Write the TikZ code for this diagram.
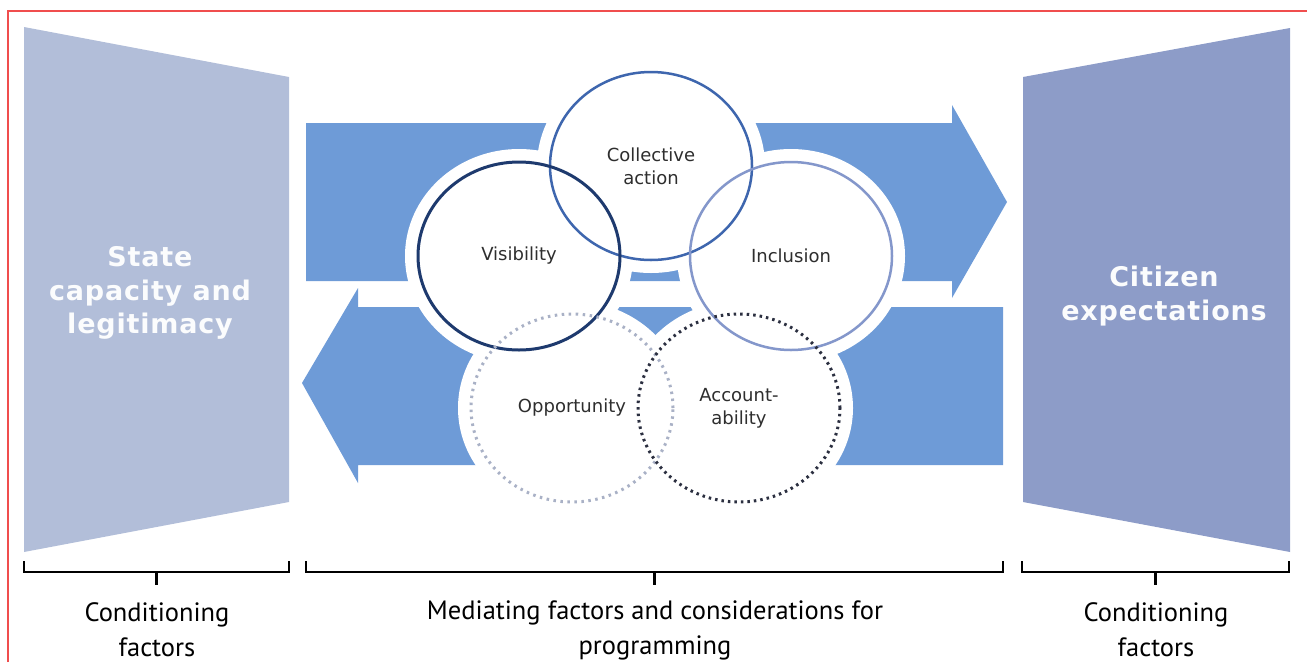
\documentclass[tikz,border=0pt]{standalone}
\usepackage{fontspec}
\setmainfont{DejaVu Sans}
\newfontfamily\captionfont{PT Sans}
\newfontfamily\panelfont[LetterSpace=3]{DejaVu Sans}
\usepackage{xcolor}
\definecolor{statefill}{HTML}{B2BED9}
\definecolor{citizenfill}{HTML}{8D9CC8}
\definecolor{arrowblue}{HTML}{6E9BD7}
\definecolor{collblue}{HTML}{3E66AE}
\definecolor{visnavy}{HTML}{1E3A6E}
\definecolor{inclblue}{HTML}{8497CB}
\definecolor{oppgrey}{HTML}{A9B1C6}
\definecolor{accdark}{HTML}{2B2F40}
\definecolor{labelgrey}{HTML}{2E2E2E}
\definecolor{framered}{HTML}{F04E4E}
\usepackage{tikz}
\usetikzlibrary{shapes.geometric}

\begin{document}
\begin{tikzpicture}[x=1pt,y=-1pt,line width=2pt]
    \tikzstyle{ring}=[ellipse,minimum width=202pt,minimum height=188pt,inner sep=0pt,align=center,text=labelgrey,font=\fontsize{18}{23}\selectfont]
    \tikzstyle{halo}=[ellipse,minimum width=202pt,minimum height=188pt,fill=white,draw=white,line width=26pt]
    \tikzstyle{panel}=[text=white!95!statefill,align=center,font=\panelfont\bfseries\fontsize{27}{33.5}\selectfont]
    \tikzstyle{caption}=[align=center,font=\captionfont\fontsize{26.5}{35}\selectfont]
    \tikzstyle{brace}=[line width=2.5pt]

    \useasboundingbox (0,0) rectangle (1307,662);
    \draw[framered,line width=1.2pt] (8,662) -- (8,11) -- (1307,11);

    % side panels
    \fill[statefill] (24,27) -- (289,77) -- (289,502) -- (24,552) -- cycle;
    \fill[citizenfill] (1023,77) -- (1290,28) -- (1290,552) -- (1023,502) -- cycle;
    \node[panel] (state) at (150,293) {State\\capacity and\\legitimacy};
    \node[panel] (citizen) at (1164,296) {Citizen\\expectations};

    % the two big arrows
    \fill[arrowblue] (306,123) -- (952,123) -- (952,105) -- (1007,202) -- (952,298) -- (952,281) -- (306,281) -- cycle;
    \fill[arrowblue] (1003,307) -- (358,307) -- (358,288) -- (302,383) -- (358,483) -- (358,465) -- (1003,465) -- cycle;

    % white gap round the circles
    \foreach \x/\y in {651/166,519/256,791/256,572/408,739/408}
        \node[halo] at (\x,\y) {};

    \node[ring,draw=collblue,line width=2.5pt] (collective) at (651,166) {Collective\\action};
    \node[ring,draw=visnavy,line width=3pt] (visibility) at (519,256) {Visibility};
    \node[ring,draw=inclblue,line width=2.5pt] (inclusion) at (791,256) {Inclusion};
    \node[ring,draw=oppgrey,line width=3pt,dash pattern=on 2.5pt off 4.5pt] (opportunity) at (572,408) {Opportunity};
    \node[ring,draw=accdark,line width=3pt,dash pattern=on 2.5pt off 4pt] (accountability) at (739,408) {Account-\\ability};

    % brackets and captions
    \foreach \a/\b in {24/289,306/1003,1022/1289}
        \draw[brace] (\a,561) -- (\a,572) -- (\b,572) -- (\b,561) ({(\a+\b)/2},572) -- ({(\a+\b)/2},585);
    \node[caption] (leftcap) at (157,630) {Conditioning\\factors};
    \node[caption] (midcap) at (655,630) {Mediating factors and considerations for\\programming};
    \node[caption] (rightcap) at (1156,630) {Conditioning\\factors};
\end{tikzpicture}
\end{document}
